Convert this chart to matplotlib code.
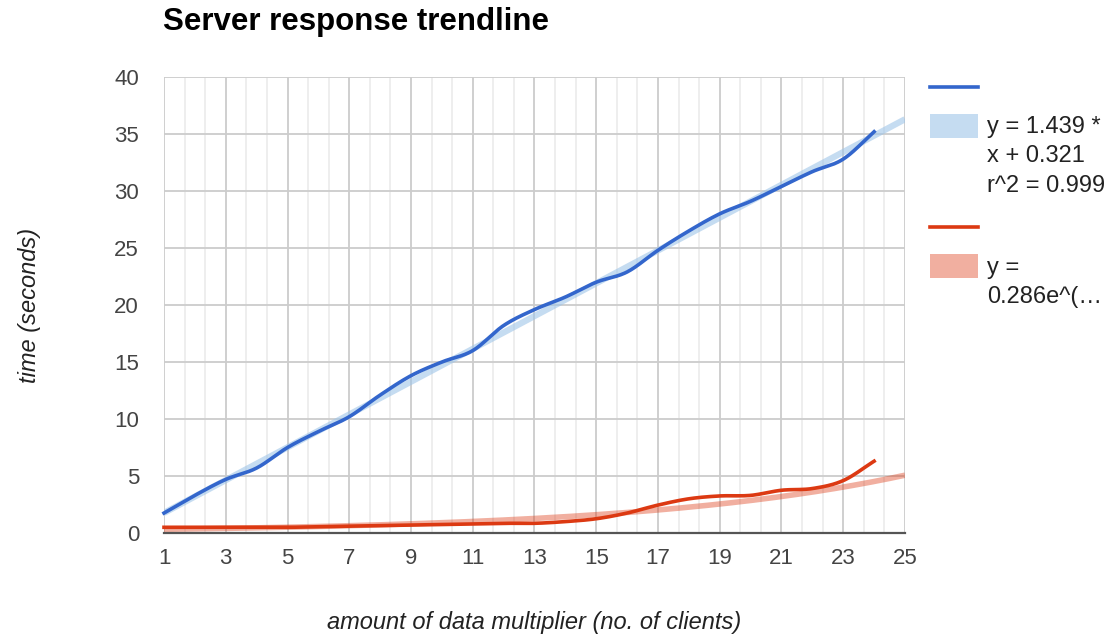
import numpy as np
import matplotlib
matplotlib.use("Agg")
import matplotlib.pyplot as plt
from matplotlib.ticker import FixedLocator
from matplotlib.lines import Line2D
from matplotlib.patches import Rectangle

# ---------------- data ----------------
clients = list(range(1, 25))
blue_times = [1.75, 3.3, 4.7, 5.7, 7.5, 8.9, 10.2, 12.1, 13.8, 15.0, 16.0, 18.2,
              19.6, 20.7, 22.0, 22.9, 24.8, 26.5, 28.0, 29.1, 30.4, 31.7, 32.8, 35.2]
red_times = [0.5, 0.5, 0.5, 0.5, 0.5, 0.55, 0.6, 0.65, 0.7, 0.75, 0.8, 0.85,
             0.85, 1.0, 1.25, 1.75, 2.45, 3.0, 3.25, 3.3, 3.75, 3.9, 4.6, 6.3]

# trendline coefficients (from legend)
lin_slope, lin_intercept = 1.439, 0.321
exp_a, exp_b = 0.286, 0.115

x_ticks = [1, 3, 5, 7, 9, 11, 13, 15, 17, 19, 21, 23, 25]
y_ticks = [0, 5, 10, 15, 20, 25, 30, 35, 40]

title = "Server response trendline"
x_label = "amount of data multiplier (no. of clients)"
y_label = "time (seconds)"
legend_blue = ["y = 1.439 *", "x + 0.321", "r^2 = 0.999"]
legend_red = ["y =", "0.286e^(\u2026"]

BLUE = "#3366cc"
RED = "#dc3912"
BLUE_TREND = "#9fc5e8"

plt.rcParams["font.family"] = ["Liberation Sans", "DejaVu Sans"]


def smooth(xs, ys, n=24):
    """Cubic Hermite rendering of a 'function' curve through the points."""
    xs = np.asarray(xs, float)
    ys = np.asarray(ys, float)
    m = np.gradient(ys, xs)
    out_x, out_y = [], []
    for i in range(len(xs) - 1):
        h = xs[i + 1] - xs[i]
        t = np.linspace(0, 1, n, endpoint=False)
        h00 = 2 * t**3 - 3 * t**2 + 1
        h10 = t**3 - 2 * t**2 + t
        h01 = -2 * t**3 + 3 * t**2
        h11 = t**3 - t**2
        out_x.append(xs[i] + t * h)
        out_y.append(h00 * ys[i] + h10 * h * m[i] + h01 * ys[i + 1] + h11 * h * m[i + 1])
    out_x.append([xs[-1]])
    out_y.append([ys[-1]])
    return np.concatenate(out_x), np.concatenate(out_y)


W, H = 1110, 636
fig = plt.figure(figsize=(W / 100, H / 100), dpi=100)
L, R, T, B = 164, 905, 77, 533
ax = fig.add_axes([L / W, 1 - B / H, (R - L) / W, (B - T) / H])

ax.set_xlim(1, 25)
ax.set_ylim(0, 40)

# grid
ax.xaxis.set_major_locator(FixedLocator(x_ticks))
ax.yaxis.set_major_locator(FixedLocator(y_ticks))
minor_x = [v for v in np.arange(1, 25.001, 2 / 3) if min(abs(v - t) for t in x_ticks) > 1e-6]
ax.xaxis.set_minor_locator(FixedLocator(minor_x))
ax.grid(True, which="major", color="#cccccc", lw=1.3, zorder=0)
ax.grid(True, which="minor", axis="x", color="#ebebeb", lw=1.2, zorder=0)
ax.set_axisbelow(True)
for s in ax.spines.values():
    s.set_visible(False)
ax.tick_params(which="both", length=0)
ax.tick_params(axis="x", pad=11, labelsize=16, labelcolor="#444444")
ax.tick_params(axis="y", pad=18, labelsize=16, labelcolor="#444444")
ax.set_xticklabels([str(t) for t in x_ticks])
ax.set_yticklabels([str(t) for t in y_ticks])

# trendlines
tx = np.linspace(1, 25, 200)
ax.plot(tx, lin_slope * tx + lin_intercept, color=BLUE_TREND, alpha=0.6, lw=4.5,
        solid_capstyle="butt", zorder=2)
ax.plot(tx, exp_a * np.exp(exp_b * tx), color=RED, alpha=0.4, lw=4,
        solid_capstyle="butt", zorder=2)

# data lines
bx, by = smooth(clients, blue_times)
rx, ry = smooth(clients, red_times)
ax.plot(bx, by, color=BLUE, lw=2.6, zorder=3, clip_on=False)
ax.plot(rx, ry, color=RED, lw=2.6, zorder=3, clip_on=False)

# baseline
ax.axhline(0, color="#555555", lw=1.6, zorder=4, clip_on=False)

# titles
fig.text(163 / W, 1 - 30 / H, title, fontsize=22.5, fontweight="bold",
         color="#000000", ha="left", va="baseline")
fig.text((L + R) / 2 / W, 1 - 623 / H, x_label, fontsize=17, style="italic",
         color="#222222", ha="center", va="center")
fig.text(30 / W, 1 - (T + B) / 2 / H, y_label, fontsize=17, style="italic",
         color="#222222", ha="center", va="center", rotation=90)


# legend
def fx(px):
    return px / W


def fy(py):
    return 1 - py / H


fig.add_artist(Line2D([fx(930), fx(978)], [fy(87), fy(87)], color=BLUE, lw=2.6))
fig.add_artist(Rectangle((fx(930), fy(138)), (978 - 930) / W, 24 / H,
                         facecolor=BLUE_TREND, alpha=0.6, edgecolor="none"))
for i, line in enumerate(legend_blue):
    fig.text(fx(987), fy(133 + 29.5 * i), line, fontsize=17, color="#222222",
             ha="left", va="baseline")
fig.add_artist(Line2D([fx(930), fx(978)], [fy(227), fy(227)], color=RED, lw=2.6))
fig.add_artist(Rectangle((fx(930), fy(278)), (978 - 930) / W, 24 / H,
                         facecolor=RED, alpha=0.4, edgecolor="none"))
for i, line in enumerate(legend_red):
    fig.text(fx(987), fy(274 + 29.5 * i), line, fontsize=17, color="#222222",
             ha="left", va="baseline")

fig.savefig("out.png", dpi=100, facecolor="white")
